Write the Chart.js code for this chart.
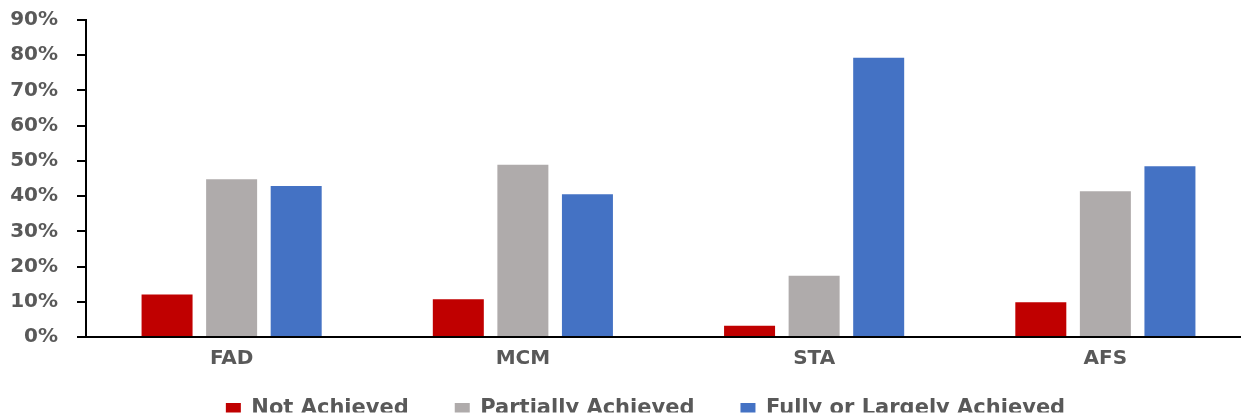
<!DOCTYPE html>
<html>
<head>
<meta charset="utf-8">
<script src="https://cdn.jsdelivr.net/npm/chart.js@4.4.1/dist/chart.umd.min.js"></script>
<style>
  html, body { margin: 0; padding: 0; background: #ffffff; overflow: hidden; width: 1241px; height: 418px; }
  #wrap { position: absolute; left: 0; top: 0; width: 1251px; height: 441px; }
</style>
</head>
<body>
<div id="wrap"><canvas id="chart" width="1251" height="441"></canvas></div>
<script>
// Assessment outcome shares by area (percent)
const categories = ['FAD', 'MCM', 'STA', 'AFS'];
const notAchieved = [12.1, 10.7, 3.2, 9.9];
const partiallyAchieved = [44.8, 48.9, 17.4, 41.4];
const fullyOrLargelyAchieved = [42.9, 40.5, 79.3, 48.5];
const seriesNames = ['Not Achieved', 'Partially Achieved', 'Fully or Largely Achieved'];
const yTicks = [0, 10, 20, 30, 40, 50, 60, 70, 80, 90];

const tickColor = '#595959';

// Moves the legend row up towards the category labels and slightly right
// (its padding also sets the wide spacing between items).
const legendShift = {
  id: 'legendShift',
  afterLayout(chart) {
    const lg = chart.legend;
    if (!lg) return;
    const { up, right } = chart.options.plugins.legendShift;
    lg.top -= up;
    lg.bottom -= up;
    lg.left += right;
    lg.right += right;
  }
};

new Chart(document.getElementById('chart'), {
  type: 'bar',
  data: {
    labels: categories,
    datasets: [
      { label: seriesNames[0], data: notAchieved, backgroundColor: '#C00000' },
      { label: seriesNames[1], data: partiallyAchieved, backgroundColor: '#AFABAB' },
      { label: seriesNames[2], data: fullyOrLargelyAchieved, backgroundColor: '#4472C4' }
    ]
  },
  plugins: [legendShift],
  options: {
    responsive: false,
    animation: false,
    devicePixelRatio: 1,
    layout: { padding: { top: 20, left: 0, right: 0, bottom: 0 } },
    datasets: { bar: { categoryPercentage: 0.665, barPercentage: 0.79 } },
    plugins: {
      tooltip: { enabled: false },
      legendShift: { up: 28.5, right: 20 },
      legend: {
        position: 'bottom',
        maxHeight: 60,
        labels: {
          boxWidth: 15,
          boxHeight: 12,
          padding: 46,
          color: tickColor,
          font: { family: 'DejaVu Sans', weight: 'bold', size: 21 }
        }
      }
    },
    scales: {
      x: {
        grid: { display: false, drawTicks: false },
        border: { display: true, color: '#000000', width: 2 },
        ticks: {
          color: tickColor,
          padding: 10,
          font: { family: 'DejaVu Sans', weight: 'bold', size: 20 }
        }
      },
      y: {
        min: 0,
        max: 90,
        afterBuildTicks(scale) { scale.ticks = yTicks.map(v => ({ value: v })); },
        grid: { display: true, drawOnChartArea: false, drawTicks: true, tickLength: 9, color: '#000000', lineWidth: 2 },
        border: { display: true, color: '#000000', width: 2 },
        ticks: {
          color: tickColor,
          padding: 19,
          font: { family: 'DejaVu Sans', weight: 'bold', size: 20 },
          callback: v => v + '%'
        },
        afterFit(scale) {
          scale.width = 86;
          scale.paddingTop = 0;
          scale.paddingBottom = 0;
        }
      }
    }
  }
});
</script>
</body>
</html>
